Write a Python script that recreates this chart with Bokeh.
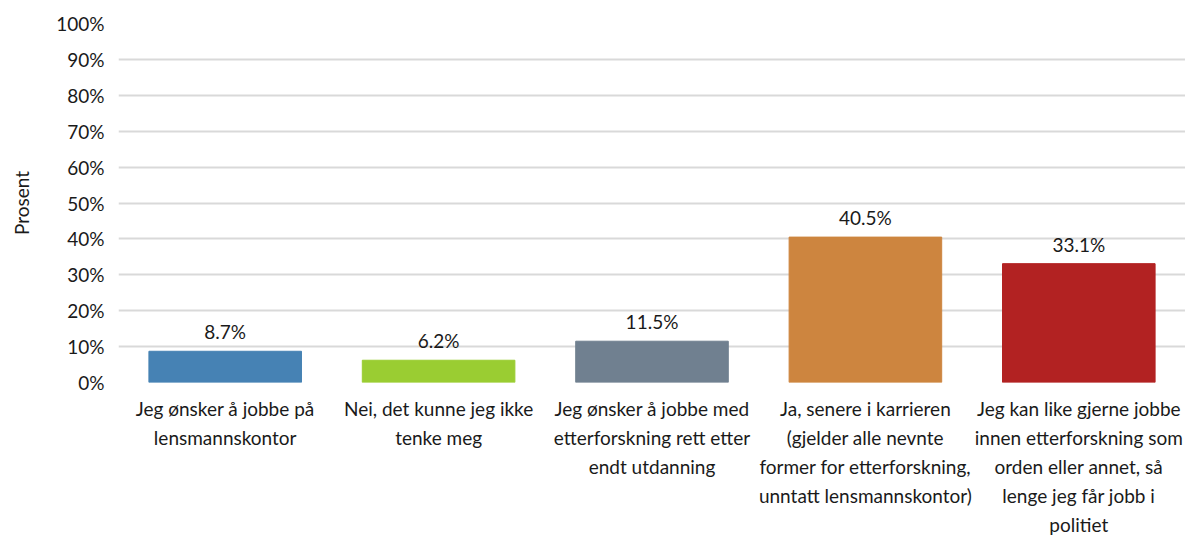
from bokeh.plotting import figure
from bokeh.models import ColumnDataSource, FactorRange, Range1d, FixedTicker, LabelSet, PrintfTickFormatter
from bokeh.core.properties import value
from bokeh.embed import file_html
from bokeh.resources import INLINE

categories = [
    "Jeg ønsker å jobbe på\nlensmannskontor",
    "Nei, det kunne jeg ikke\ntenke meg",
    "Jeg ønsker å jobbe med\netterforskning rett etter\nendt utdanning",
    "Ja, senere i karrieren\n(gjelder alle nevnte\nformer for etterforskning,\nunntatt lensmannskontor)",
    "Jeg kan like gjerne jobbe\ninnen etterforskning som\norden eller annet, så\nlenge jeg får jobb i\npolitiet",
]
values = [8.7, 6.2, 11.5, 40.5, 33.1]
value_labels = ["8.7%", "6.2%", "11.5%", "40.5%", "33.1%"]
colors = ["#4682B4", "#9ACD32", "#708090", "#CD853F", "#B22222"]
y_ticks = [0, 10, 20, 30, 40, 50, 60, 70, 80, 90, 100]

FONT = "Lato"
FS = "19px"
TXT = "#1a1a1a"

src = ColumnDataSource(dict(cat=categories, val=values, lab=value_labels, col=colors))

p = figure(
    x_range=FactorRange(*categories, range_padding=0),
    y_range=Range1d(0, 100),
    width=1185, height=540,
    output_backend="svg", toolbar_location=None,
    min_border_left=118, min_border_right=0, min_border_top=23, min_border_bottom=158,
)
p.vbar(x="cat", top="val", width=0.715, color="col", source=src)

labels = LabelSet(x="cat", y="val", text="lab", source=src, text_align="center",
                  text_baseline="bottom", y_offset=8, text_font=value(FONT),
                  text_font_size=FS, text_color=TXT)
p.add_layout(labels)

p.outline_line_color = None
p.xgrid.grid_line_color = None
p.ygrid.grid_line_color = "#d9d9d9"
p.ygrid.grid_line_width = 2

p.yaxis.ticker = FixedTicker(ticks=y_ticks)
p.yaxis.formatter = PrintfTickFormatter(format="%d%%")
p.yaxis.axis_line_color = None
p.yaxis.major_tick_line_color = None
p.yaxis.minor_tick_line_color = None
p.yaxis.major_tick_out = 0
p.yaxis.major_label_standoff = 14
p.yaxis.major_label_text_font = FONT
p.yaxis.major_label_text_font_size = FS
p.yaxis.major_label_text_color = TXT
p.yaxis.axis_label = "Prosent"
p.yaxis.axis_label_text_font = FONT
p.yaxis.axis_label_text_font_size = FS
p.yaxis.axis_label_text_font_style = "normal"
p.yaxis.axis_label_text_color = TXT
p.yaxis.axis_label_standoff = 20

p.xaxis.axis_line_color = None
p.xaxis.major_tick_line_color = None
p.xaxis.major_tick_out = 0
p.xaxis.major_label_standoff = 14
p.xaxis.major_label_text_font = FONT
p.xaxis.major_label_text_font_size = FS
p.xaxis.major_label_text_color = TXT
p.xaxis.major_label_text_line_height = 1.27
p.xaxis.major_label_orientation = "horizontal"

open("out.html", "w").write(file_html(p, INLINE))
